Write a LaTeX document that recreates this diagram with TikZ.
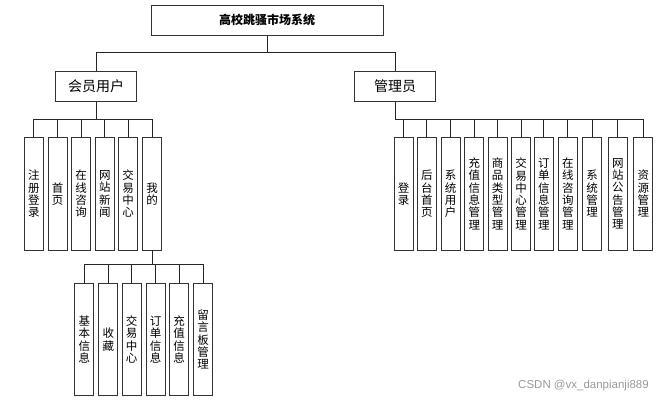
\documentclass[tikz,border=0pt]{standalone}
\usepackage{fontspec}
\setmainfont{Noto Sans CJK SC}
\newfontfamily\wmfont{Liberation Sans}
\begin{document}
\begin{tikzpicture}[x=1pt,y=-1pt,
  box/.style={draw=black!80, line width=0.9pt, fill=white, inner sep=0pt},
  leaf/.style={box, minimum width=19pt, minimum height=112.3pt, align=center, font=\fontsize{11.5}{12.3}\selectfont},
  conn/.style={draw=black!85, line width=0.8pt}]
\useasboundingbox (0,0) rectangle (660,402);
% top
\node[box, minimum width=232pt, minimum height=29.3pt, font=\fontsize{12}{14}\selectfont\bfseries] (root) at (267,20.3) {高校跳骚市场系统};
\node[box, minimum width=81pt, minimum height=29.7pt, font=\fontsize{14}{16}\selectfont] (member) at (96.2,86.2) {会员用户};
\node[box, minimum width=81pt, minimum height=29.7pt, font=\fontsize{14}{16}\selectfont] (admin) at (395.2,86.2) {管理员};
\coordinate (bus0) at (0,52.4);
\draw[conn] (root.south) -- (root.south |- bus0) -| (member.north);
\draw[conn] (root.south |- bus0) -| (admin.north);
% member children
\coordinate (bus1) at (0,119);
\foreach \n/\x/\t in {m1/33.8/注\\册\\登\\录, m2/57.5/首\\页, m3/81/在\\线\\咨\\询, m4/104.8/网\\站\\新\\闻, m5/128.2/交\\易\\中\\心, m6/152/我\\的}{
  \node[leaf] (\n) at (\x,193.85) {\t};
  \draw[conn] (member.south) -- (member.south |- bus1) -| (\n.north);
}
% my children
\coordinate (bus2) at (0,264.3);
\foreach \n/\x/\t in {k1/84.3/基\\本\\信\\息, k2/108.3/收\\藏, k3/131.7/交\\易\\中\\心, k4/155.5/订\\单\\信\\息, k5/179.1/充\\值\\信\\息, k6/203/留\\言\\板\\管\\理}{
  \node[leaf] (\n) at (\x,339.5) {\t};
  \draw[conn] (m6.south) -- (m6.south |- bus2) -| (\n.north);
}
% admin children
\foreach \n/\x/\t in {a1/403.5/登\\录, a2/426.8/后\\台\\首\\页, a3/450.7/系\\统\\用\\户, a4/474.3/充\\值\\信\\息\\管\\理, a5/497.7/商\\品\\类\\型\\管\\理, a6/521.2/交\\易\\中\\心\\管\\理, a7/543.8/订\\单\\信\\息\\管\\理, a8/567.8/在\\线\\咨\\询\\管\\理, a9/592/系\\统\\管\\理, a10/617.8/网\\站\\公\\告\\管\\理, a11/643.3/资\\源\\管\\理}{
  \node[leaf] (\n) at (\x,193.85) {\t};
  \draw[conn] (admin.south) -- (admin.south |- bus1) -| (\n.north);
}
\node[font=\wmfont\fontsize{11.5}{13}\selectfont, text=black!40, anchor=east, inner sep=0pt] (wm) at (649,386) {CSDN @vx\_danpianji889};
\end{tikzpicture}
\end{document}
